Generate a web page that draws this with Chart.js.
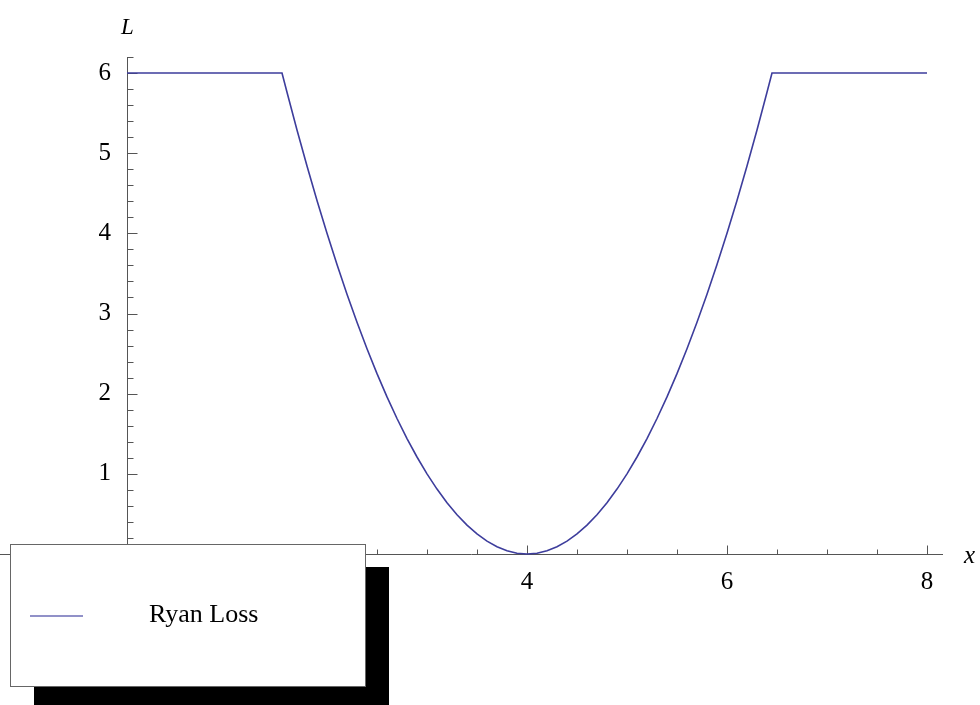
<!DOCTYPE html>
<html>
<head>
<meta charset="utf-8">
<script src="https://cdn.jsdelivr.net/npm/chart.js@4.4.0/dist/chart.umd.min.js"></script>
<style>
  body { margin: 0; background: #fff; }
  canvas { display: block; }
</style>
</head>
<body>
<canvas id="chart-ryan-loss" width="980" height="705"></canvas>
<script>
  // values (flat at 6, parabola down to 0 at x = 4)
  const xValues = [0, 1.55,
    1.6, 1.7, 1.8, 1.9, 2.0, 2.1, 2.2, 2.3, 2.4, 2.5, 2.6, 2.7, 2.8, 2.9,
    3.0, 3.1, 3.2, 3.3, 3.4, 3.5, 3.6, 3.7, 3.8, 3.9, 4.0,
    4.1, 4.2, 4.3, 4.4, 4.5, 4.6, 4.7, 4.8, 4.9, 5.0,
    5.1, 5.2, 5.3, 5.4, 5.5, 5.6, 5.7, 5.8, 5.9, 6.0,
    6.1, 6.2, 6.3, 6.4, 6.45, 8];
  const lossValues = [6, 6,
    5.76, 5.29, 4.84, 4.41, 4.0, 3.61, 3.24, 2.89, 2.56, 2.25, 1.96, 1.69, 1.44, 1.21,
    1.0, 0.81, 0.64, 0.49, 0.36, 0.25, 0.16, 0.09, 0.04, 0.01, 0,
    0.01, 0.04, 0.09, 0.16, 0.25, 0.36, 0.49, 0.64, 0.81, 1.0,
    1.21, 1.44, 1.69, 1.96, 2.25, 2.56, 2.89, 3.24, 3.61, 4.0,
    4.41, 4.84, 5.29, 5.76, 6, 6];
  const xTicks = [0, 2, 4, 6, 8];
  const yTicks = [1, 2, 3, 4, 5, 6];
  const seriesName = 'Ryan Loss';

  const serif = "'Liberation Serif', 'Times New Roman', serif";
  const lineColor = '#3d3d9c';
  const axisColor = '#555';

  const dataRyan = {
    datasets: [{
      label: seriesName,
      data: xValues.map((x, i) => ({ x: x, y: lossValues[i] })),
      borderColor: lineColor,
      borderWidth: 1.6,
      pointRadius: 0,
      tension: 0,
      fill: false,
      clip: 6
    }]
  };

  // Mathematica style axes: ticks pointing inward, axis labels at the ends
  const mathAxes = {
    id: 'mathAxes',
    beforeDatasetsDraw(chart) {
      const ctx = chart.ctx;
      const xs = chart.scales.x;
      const ys = chart.scales.y;
      const x0 = Math.round(xs.getPixelForValue(0)) + 0.5;
      const y0 = Math.round(ys.getPixelForValue(0)) + 0.5;
      ctx.save();
      ctx.strokeStyle = axisColor;
      ctx.lineWidth = 1;
      ctx.beginPath();
      ctx.moveTo(0, y0);
      ctx.lineTo(xs.right, y0);
      ctx.moveTo(x0, ys.top);
      ctx.lineTo(x0, chart.height);
      // x ticks every 0.5
      for (let v = 0; v <= xs.max + 1e-9; v += 0.5) {
        const px = Math.round(xs.getPixelForValue(v)) + 0.5;
        const len = Math.abs(v % 2) < 1e-9 ? 9 : 5;
        ctx.moveTo(px, y0);
        ctx.lineTo(px, y0 - len);
      }
      // y ticks every 0.2
      for (let k = 0; k <= 31; k++) {
        const v = k * 0.2;
        const py = Math.round(ys.getPixelForValue(v)) + 0.5;
        const len = k % 5 === 0 ? 10 : 6;
        ctx.moveTo(x0, py);
        ctx.lineTo(x0 + len, py);
      }
      ctx.stroke();

      ctx.fillStyle = '#000';
      ctx.font = 'italic 23px ' + serif;
      ctx.textAlign = 'left';
      ctx.textBaseline = 'alphabetic';
      ctx.fillText('L', 121, 34);
      ctx.font = 'italic 25px ' + serif;
      ctx.fillText('x', 964, 563);
      ctx.restore();
    },
    afterDraw(chart) {
      const ctx = chart.ctx;
      const ds = chart.data.datasets[0];
      ctx.save();
      // shadow
      ctx.fillStyle = '#000';
      ctx.fillRect(34, 567, 355, 138);
      // box
      ctx.fillStyle = '#fff';
      ctx.fillRect(10, 544, 356, 143);
      ctx.strokeStyle = '#666';
      ctx.lineWidth = 1;
      ctx.strokeRect(10.5, 544.5, 355, 142);
      // swatch
      ctx.strokeStyle = '#6c6cb6';
      ctx.lineWidth = 1.5;
      ctx.beginPath();
      ctx.moveTo(30, 616);
      ctx.lineTo(83, 616);
      ctx.stroke();
      ctx.fillStyle = '#000';
      ctx.font = '26px ' + serif;
      ctx.textBaseline = 'alphabetic';
      ctx.fillText(ds.label, 149, 622);
      ctx.restore();
    }
  };

  const configRyan = {
    type: 'line',
    data: dataRyan,
    options: {
      responsive: false,
      animation: false,
      layout: {
        padding: { top: 57, right: 37, left: 0, bottom: 0 }
      },
      plugins: {
        legend: { display: false },
        tooltip: { enabled: false }
      },
      scales: {
        x: {
          type: 'linear',
          min: 0,
          max: 8.16,
          grid: { display: false },
          border: { display: false },
          afterBuildTicks: (scale) => { scale.ticks = xTicks.map(v => ({ value: v })); },
          afterFit: (scale) => { scale.height = 151; },
          ticks: {
            color: '#000',
            padding: 5,
            maxRotation: 0,
            font: { family: serif, size: 25 },
            callback: (value) => value === 0 ? '' : String(value)
          }
        },
        y: {
          type: 'linear',
          min: 0,
          max: 6.2,
          grid: { display: false },
          border: { display: false },
          afterBuildTicks: (scale) => { scale.ticks = yTicks.map(v => ({ value: v })); },
          afterFit: (scale) => { scale.width = 127; },
          ticks: {
            color: '#000',
            padding: 8,
            font: { family: serif, size: 25 },
            callback: (value) => String(value)
          }
        }
      }
    },
    plugins: [mathAxes]
  };

  const chartRyan = new Chart(document.getElementById('chart-ryan-loss'), configRyan);
</script>
</body>
</html>
